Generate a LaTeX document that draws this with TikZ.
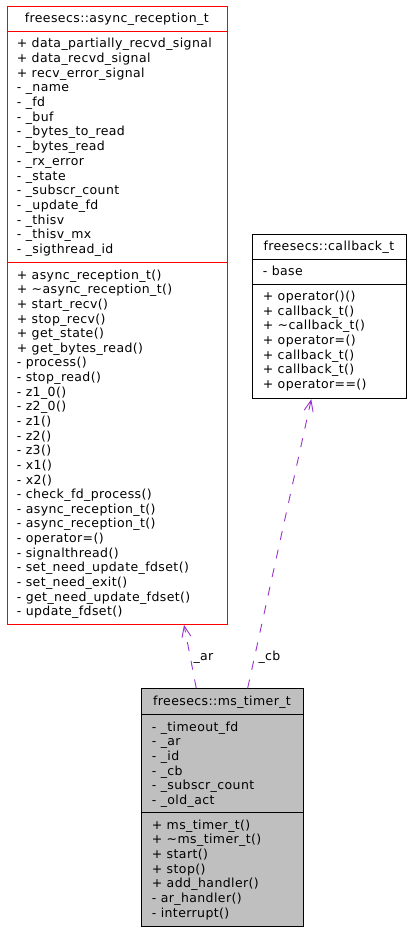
\documentclass[tikz,border=0pt]{standalone}
\usepackage{fontspec}
\setmainfont{DejaVu Sans}[LetterSpace=3.2]
\usetikzlibrary{arrows.meta,calc}
\definecolor{edgepurple}{HTML}{9A32CD}
\definecolor{boxred}{HTML}{FF0000}
\definecolor{boxgrey}{HTML}{BFBFBF}
\begin{document}
\begin{tikzpicture}[x=1pt,y=-1pt,
  txt/.style={inner sep=0pt, font=\fontsize{12.5}{14}\selectfont},
  member/.style={txt, anchor=base west},
  ctitle/.style={txt, anchor=base},
  classbox/.style={draw, line width=0.9pt, anchor=north west, inner sep=0pt},
  usage/.style={draw=edgepurple, line width=0.9pt, dash pattern=on 9pt off 10pt,
    -{Straight Barb[length=11pt,width=9pt,line width=0.9pt]}},
  elabel/.style={txt, anchor=base west}]
\useasboundingbox (0,0) rectangle (411,931);

% ---------- async_reception_t ----------
\node[classbox, draw=boxred, minimum width=220.5pt, minimum height=618pt] (ar) at (6.5,6) {};
\draw[boxred, line width=0.9pt] (6.5,31) -- (227,31) (6.5,262.7) -- (227,262.7);
\node[ctitle] (artitle) at (116.75,22.7) {freesecs::async\_reception\_t};
\foreach \t [count=\i from 0] in {
  + data\_partially\_recvd\_signal, + data\_recvd\_signal, + recv\_error\_signal,
  - \_name, - \_fd, - \_buf, - \_bytes\_to\_read, - \_bytes\_read, - \_rx\_error,
  - \_state, - \_subscr\_count, - \_update\_fd, - \_thisv, - \_thisv\_mx,
  - \_sigthread\_id}
  \node[member] (ara\i) at (16.7,47.7+\i*14.7) {\t};
\foreach \t [count=\i from 0] in {
  + async\_reception\_t(), + \textasciitilde async\_reception\_t(), + start\_recv(),
  + stop\_recv(), + get\_state(), + get\_bytes\_read(), - process(), - stop\_read(),
  - z1\_0(), - z2\_0(), - z1(), - z2(), - z3(), - x1(), - x2(),
  - check\_fd\_process(), - async\_reception\_t(), - async\_reception\_t(),
  - operator=(), - signalthread(), - set\_need\_update\_fdset(),
  - set\_need\_exit(), - get\_need\_update\_fdset(), - update\_fdset()}
  \node[member] (arm\i) at (16.7,279.2+\i*14.63) {\t};

% ---------- callback_t ----------
\node[classbox, minimum width=154.3pt, minimum height=164.3pt] (cb) at (251.7,234) {};
\draw[line width=0.9pt] (251.7,259.3) -- (406,259.3) (251.7,284.3) -- (406,284.3);
\node[ctitle] (cbtitle) at (328.85,250.7) {freesecs::callback\_t};
\node[member] (cba0) at (262.7,275.8) {- base};
\foreach \t [count=\i from 0] in {
  + operator()(), + callback\_t(), + \textasciitilde callback\_t(), + operator=(),
  + callback\_t(), + callback\_t(), + operator==()}
  \node[member] (cbm\i) at (262.7,300.6+\i*14.67) {\t};

% ---------- ms_timer_t ----------
\node[classbox, fill=boxgrey, minimum width=162.6pt, minimum height=237.7pt] (ms) at (140.7,688.3) {};
\draw[line width=0.9pt] (140.7,714.3) -- (303.3,714.3) (140.7,812) -- (303.3,812);
\node[ctitle] (mstitle) at (222,705) {freesecs::ms\_timer\_t};
\foreach \t [count=\i from 0] in {
  - \_timeout\_fd, - \_ar, - \_id, - \_cb, - \_subscr\_count, - \_old\_act}
  \node[member] (msa\i) at (151.7,731+\i*14.67) {\t};
\foreach \t [count=\i from 0] in {
  + ms\_timer\_t(), + \textasciitilde ms\_timer\_t(), + start(), + stop(),
  + add\_handler(), - ar\_handler(), - interrupt()}
  \node[member] (msm\i) at (151.7,829+\i*14.67) {\t};

% ---------- connectors ----------
\draw[usage] ($(ms.north west)!0.34!(ms.north east)$) -- ($(ar.south west)!0.802!(ar.south east)$);
\draw[usage] ($(ms.north west)!0.654!(ms.north east)$) -- ($(cb.south west)!0.384!(cb.south east)$);
\node[elabel] (lar) at (193.3,660) {\_ar};
\node[elabel] (lcb) at (258.3,660) {\_cb};
\end{tikzpicture}
\end{document}
